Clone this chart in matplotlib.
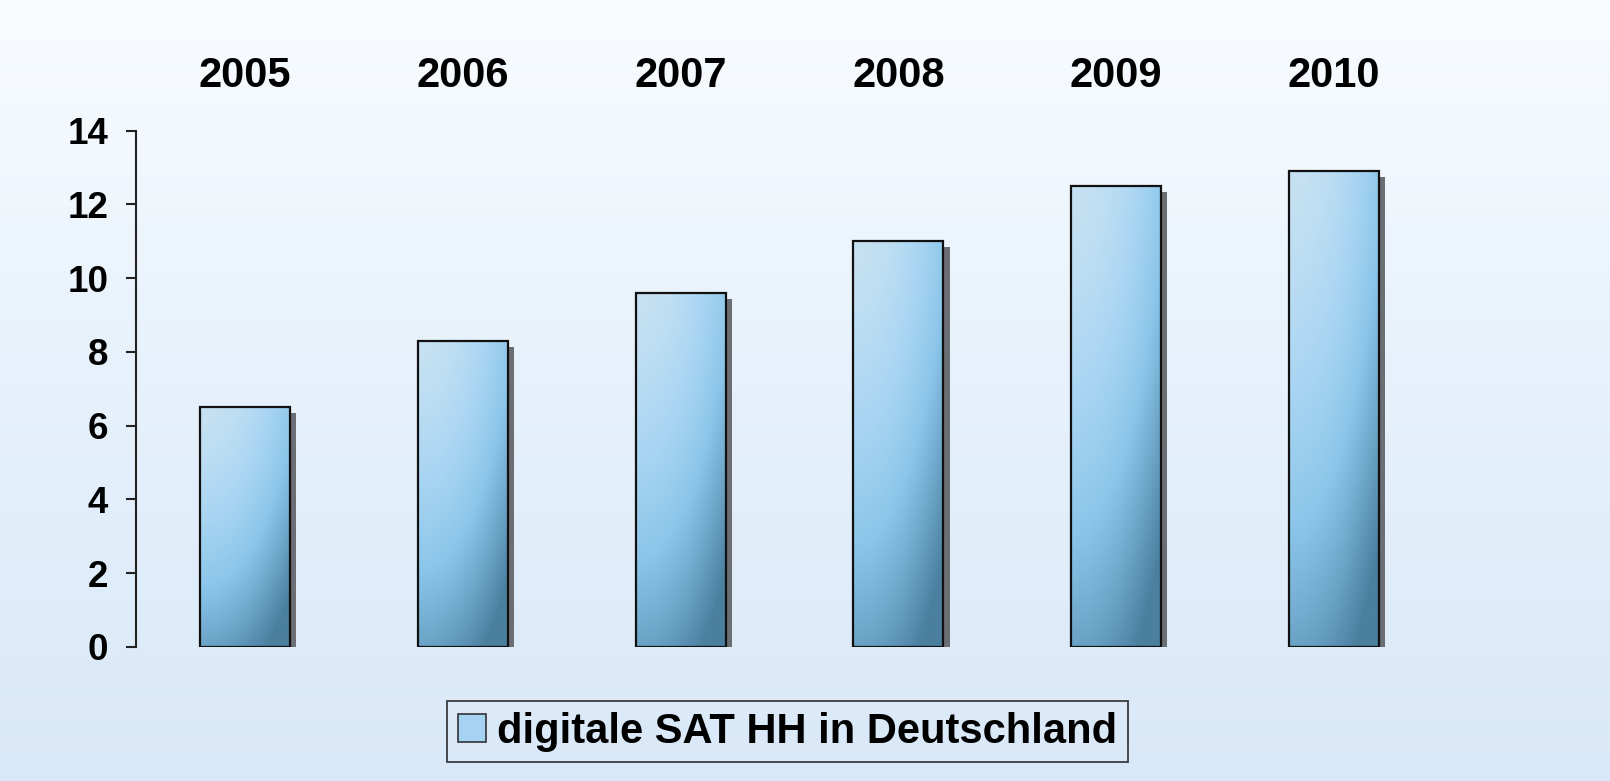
import matplotlib
matplotlib.use("Agg")
import matplotlib.pyplot as plt
import matplotlib.transforms as mtransforms
import numpy as np
from matplotlib.colors import LinearSegmentedColormap
from matplotlib.patches import Patch

years = ["2005", "2006", "2007", "2008", "2009", "2010"]
values = [6.5, 8.3, 9.6, 11.0, 12.5, 12.9]
series_label = "digitale SAT HH in Deutschland"
yticks = [0, 2, 4, 6, 8, 10, 12, 14]

plt.rcParams["font.family"] = ["Liberation Sans", "DejaVu Sans"]
plt.rcParams["font.weight"] = "bold"

fig = plt.figure(figsize=(16.1, 7.81), dpi=100)

# background gradient: near white at top -> light blue at bottom
bg = fig.add_axes([0, 0, 1, 1], zorder=-10)
bg_cmap = LinearSegmentedColormap.from_list("bg", ["#d9e8f8", "#e6f1fb", "#f9fcff"])
bg.imshow(np.linspace(0, 1, 256).reshape(-1, 1), cmap=bg_cmap, aspect="auto",
          extent=(0, 1, 0, 1), origin="lower")
bg.axis("off")

ax = fig.add_axes([0.0845, 0.1716, 0.8117, 0.6613])
ax.patch.set_alpha(0)

x = np.arange(len(years))
width = 0.413

# shadow bars, shifted right/down a few pixels
shadow_tr = ax.transData + mtransforms.ScaledTranslation(4.5 / 72, -4.5 / 72, fig.dpi_scale_trans)
ax.bar(x, values, width, color="#6b6e73", edgecolor="none", transform=shadow_tr, zorder=1)

bars = ax.bar(x, values, width, facecolor="none", edgecolor="#111111", linewidth=1.6,
              zorder=3, label=series_label)

# diagonal gradient inside each bar
bar_cmap = LinearSegmentedColormap.from_list(
    "bar", ["#c6e1f3", "#a8d5f2", "#8cc6ea", "#6aa3c6", "#4a7f9f"])
gy, gx = np.mgrid[0:1:200j, 0:1:60j]
for b, v in zip(bars, values):
    # t: 0 top-left (light) -> 1 bottom-right (dark)
    t = 0.75 * (1 - gy) ** 1.4 + 0.45 * gx ** 2.0
    t = np.clip(t, 0, 1)
    x0 = b.get_x()
    im = ax.imshow(t, cmap=bar_cmap, vmin=0, vmax=1, aspect="auto",
                   extent=(x0, x0 + width, v, 0), zorder=2, interpolation="bilinear")
    im.set_clip_path(b)

ax.set_xlim(-0.5, len(years) - 0.5)
ax.set_ylim(0, 14)
ax.set_yticks(yticks)
ax.set_yticklabels([str(t) for t in yticks], fontsize=26.5, fontweight="bold")
ax.tick_params(axis="y", length=7, width=1.5, color="#222222", pad=13)

ax.xaxis.tick_top()
ax.set_xticks(x)
ax.set_xticklabels(years, fontsize=30, fontweight="bold")
ax.tick_params(axis="x", length=0, pad=24.5)

for side in ("top", "right", "bottom"):
    ax.spines[side].set_visible(False)
ax.spines["left"].set_linewidth(1.5)
ax.spines["left"].set_color("#222222")

handle = Patch(facecolor="#a6d3f1", edgecolor="#333333", linewidth=1.2)
leg = fig.legend([handle], [series_label], loc="lower center",
                 bbox_to_anchor=(0.4891, 0.0243), fontsize=30, frameon=True,
                 fancybox=False, handlelength=0.67, handleheight=0.67,
                 handletextpad=0.28, borderpad=0.25, borderaxespad=0)
for t in leg.get_texts():
    t.set_fontweight("bold")
leg.get_frame().set_edgecolor("#111111")
leg.get_frame().set_linewidth(1.3)
leg.get_frame().set_facecolor("none")

fig.savefig("out.png", dpi=100)
